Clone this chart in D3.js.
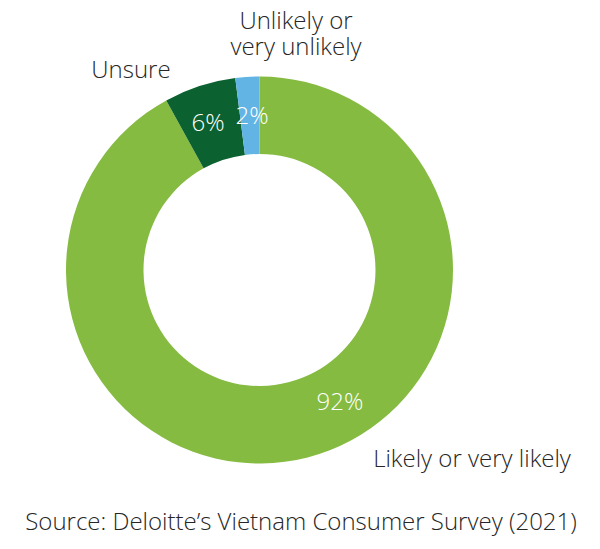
<!DOCTYPE html>
<html><head><meta charset="utf-8">
<script src="https://cdn.jsdelivr.net/npm/d3@7"></script>
<style>
html,body{margin:0;padding:0;background:#fff;}
text{font-family:"Open Sans",sans-serif;font-weight:300;}
</style></head>
<body>
<svg id="c" width="600" height="549"></svg>
<script>
const categories = ["Likely or very likely", "Unsure", "Unlikely or very unlikely"];
const values = [92, 6, 2];
const valueLabels = ["92%", "6%", "2%"];
const colors = ["#85bb41", "#0b6130", "#62b4e4"];
const source = "Source: Deloitte’s Vietnam Consumer Survey (2021)";

const svg = d3.select("#c");
const cx = 259.5, cy = 270, rOuter = 193.5, rInner = 116;
const g = svg.append("g").attr("transform", `translate(${cx},${cy})`);

const pie = d3.pie().sort(null).value(d => d)(values);
const arc = d3.arc().innerRadius(rInner).outerRadius(rOuter);

g.selectAll("path").data(pie).enter().append("path")
  .attr("d", arc).attr("fill", (d, i) => colors[i]);

const valueOffsets = [[340 - cx, 410 - cy], [208 - cx, 131 - cy], [252 - cx, 124 - cy]];
g.selectAll("text.val").data(pie).enter().append("text")
  .attr("class", "val")
  .attr("x", (d, i) => valueOffsets[i][0])
  .attr("y", (d, i) => valueOffsets[i][1])
  .attr("text-anchor", "middle")
  .attr("fill", "#fff")
  .attr("font-size", 24)
  .text((d, i) => valueLabels[i]);

const catText = svg.append("g").attr("fill", "#262626").attr("font-size", 24);
catText.append("text").attr("x", 472).attr("y", 467).attr("text-anchor", "middle").text(categories[0]);
catText.append("text").attr("x", 131).attr("y", 78).attr("text-anchor", "middle").text(categories[1]);
const t3 = catText.append("text").attr("text-anchor", "middle");
t3.append("tspan").attr("x", 296).attr("y", 29).text("Unlikely or");
t3.append("tspan").attr("x", 296).attr("y", 55).text("very unlikely");

svg.append("text").attr("x", 301).attr("y", 530).attr("text-anchor", "middle")
  .attr("fill", "#262626").attr("font-size", 24).text(source);
</script>
</body></html>
